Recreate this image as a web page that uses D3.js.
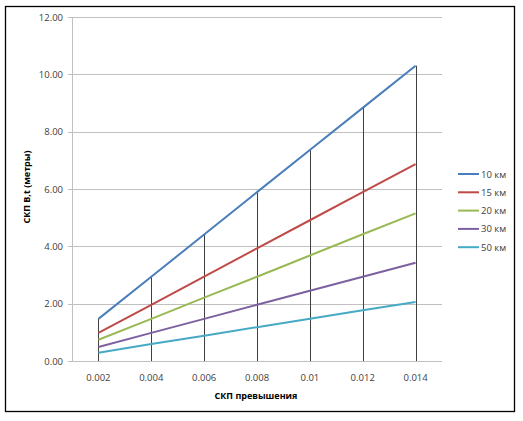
<!DOCTYPE html>
<html lang="ru">
<head>
<meta charset="utf-8">
<script src="https://d3js.org/d3.v7.min.js"></script>
<style>
  body { margin: 0; background: #fff; }
  svg { font-family: "Open Sans", "DejaVu Sans", sans-serif; }
</style>
</head>
<body>
<script>
// x categories (СКП превышения)
var cats = ["0.002", "0.004", "0.006", "0.008", "0.01", "0.012", "0.014"];
var s10 = [1.47, 2.94, 4.41, 5.89, 7.36, 8.83, 10.30];
var s15 = [0.98, 1.96, 2.94, 3.93, 4.91, 5.89, 6.87];
var s20 = [0.74, 1.47, 2.21, 2.94, 3.68, 4.42, 5.15];
var s30 = [0.49, 0.98, 1.47, 1.96, 2.45, 2.94, 3.43];
var s50 = [0.29, 0.59, 0.88, 1.18, 1.47, 1.77, 2.06];
var names = ["10 км", "15 км", "20 км", "30 км", "50 км"];
var yTicks = [0, 2, 4, 6, 8, 10, 12];

var series = [s10, s15, s20, s30, s50];
var colors = ["#4a7ebb", "#be4b48", "#98b954", "#7d60a0", "#46aac5"];

var W = 523, H = 421;
var svg = d3.select("body").append("svg")
    .attr("width", W).attr("height", H);

// outer frame
svg.append("rect")
    .attr("x", 5.5).attr("y", 6.5)
    .attr("width", 509).attr("height", 405)
    .attr("fill", "none").attr("stroke", "#000").attr("stroke-width", 1.3);

var pL = 72, pR = 442, pT = 17, pB = 361;

var x = d3.scalePoint().domain(cats).range([pL, pR]).padding(0.5);
var y = d3.scaleLinear().domain([0, 12]).range([pB, pT]);

// horizontal gridlines
svg.append("g").selectAll("line")
    .data(yTicks)
    .enter().append("line")
    .attr("x1", pL - 4).attr("x2", pR)
    .attr("y1", function(d) { return Math.round(y(d)) + 0.5; })
    .attr("y2", function(d) { return Math.round(y(d)) + 0.5; })
    .attr("stroke", "#c0c0c0").attr("stroke-width", 1);

// y axis line
svg.append("line")
    .attr("x1", pL + 0.5).attr("x2", pL + 0.5)
    .attr("y1", pT).attr("y2", pB)
    .attr("stroke", "#c0c0c0");

// y tick labels
svg.append("g").selectAll("text")
    .data(yTicks)
    .enter().append("text")
    .attr("x", pL - 9)
    .attr("y", function(d) { return y(d) + 3.5; })
    .attr("text-anchor", "end")
    .attr("font-size", 9.5)
    .attr("fill", "#404040")
    .text(function(d) { return d3.format(".2f")(d); });

// x tick labels
svg.append("g").selectAll("text")
    .data(cats)
    .enter().append("text")
    .attr("x", function(d) { return x(d); })
    .attr("y", 381)
    .attr("text-anchor", "middle")
    .attr("font-size", 9.5)
    .attr("fill", "#404040")
    .text(function(d) { return d; });

// drop lines from the top series
svg.append("g").selectAll("line")
    .data(cats)
    .enter().append("line")
    .attr("x1", function(d) { return Math.round(x(d)) + 0.5; })
    .attr("x2", function(d) { return Math.round(x(d)) + 0.5; })
    .attr("y1", function(d, i) { return y(s10[i]); })
    .attr("y2", pB)
    .attr("stroke", "#404040").attr("stroke-width", 1);

// series lines
var line = d3.line()
    .x(function(d, i) { return x(cats[i]); })
    .y(function(d) { return y(d); });

svg.append("g").selectAll("path")
    .data(series)
    .enter().append("path")
    .attr("d", line)
    .attr("fill", "none")
    .attr("stroke", function(d, i) { return colors[i]; })
    .attr("stroke-width", 2);

// legend
var lg = svg.append("g").selectAll("g")
    .data(names)
    .enter().append("g")
    .attr("transform", function(d, i) { return "translate(458," + (174 + i * 18.3) + ")"; });
lg.append("line")
    .attr("x1", 0).attr("x2", 21)
    .attr("stroke", function(d, i) { return colors[i]; })
    .attr("stroke-width", 2);
lg.append("text")
    .attr("x", 23).attr("y", 3.5)
    .attr("font-size", 9.5)
    .attr("fill", "#404040")
    .text(function(d) { return d; });

// axis titles
svg.append("text")
    .attr("x", 256).attr("y", 399)
    .attr("text-anchor", "middle")
    .attr("font-size", 9)
    .attr("font-weight", "bold")
    .text("СКП превышения");

svg.append("text")
    .attr("transform", "translate(30,187) rotate(-90)")
    .attr("text-anchor", "middle")
    .attr("font-size", 9)
    .attr("font-weight", "bold")
    .text("СКП В,t (метры)");
</script>
</body>
</html>
